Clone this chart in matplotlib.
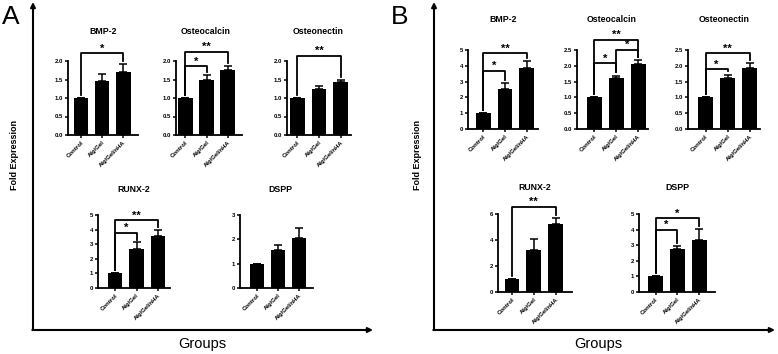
import matplotlib
matplotlib.use("Agg")
import matplotlib.pyplot as plt
import numpy as np

plt.rcParams['font.family'] = ['Liberation Sans', 'DejaVu Sans']

# ---------------- data ----------------
groups = ["Control", "Alg/Gel", "Alg/Gel/nHA"]

A_bmp2 = [1.0, 1.46, 1.71]
A_bmp2_err = [0.0, 0.20, 0.20]
A_bmp2_sig = [(0, 2, 2.21, "*")]

A_ocn = [1.0, 1.48, 1.76]
A_ocn_err = [0.0, 0.14, 0.10]
A_ocn_sig = [(0, 1, 1.86, "*"), (0, 2, 2.25, "**")]

A_onc = [1.0, 1.23, 1.44]
A_onc_err = [0.0, 0.09, 0.06]
A_onc_sig = [(0, 2, 2.14, "**")]

A_runx2 = [1.0, 2.70, 3.57]
A_runx2_err = [0.0, 0.42, 0.38]
A_runx2_sig = [(0, 1, 3.78, "*"), (0, 2, 4.65, "**")]

A_dspp = [1.0, 1.57, 2.05]
A_dspp_err = [0.0, 0.18, 0.43]
A_dspp_sig = []

B_bmp2 = [1.0, 2.56, 3.86]
B_bmp2_err = [0.0, 0.35, 0.45]
B_bmp2_sig = [(0, 1, 3.70, "*"), (0, 2, 4.80, "**")]

B_ocn = [1.0, 1.60, 2.05]
B_ocn_err = [0.0, 0.09, 0.14]
B_ocn_sig = [(0, 1, 2.08, "*"), (1, 2, 2.50, "*"), (0, 2, 2.82, "**")]

B_onc = [1.0, 1.62, 1.92]
B_onc_err = [0.0, 0.10, 0.16]
B_onc_sig = [(0, 1, 1.89, "*"), (0, 2, 2.39, "**")]

B_runx2 = [1.0, 3.25, 5.20]
B_runx2_err = [0.0, 0.82, 0.50]
B_runx2_sig = [(0, 2, 6.55, "**")]

B_dspp = [1.0, 2.75, 3.33]
B_dspp_err = [0.0, 0.22, 0.68]
B_dspp_sig = [(0, 1, 3.98, "*"), (0, 2, 4.72, "*")]

titles = ["BMP-2", "Osteocalcin", "Osteonectin", "RUNX-2", "DSPP"]

# ---------------- layout (pixels) ----------------
W, H = 778, 354
fig = plt.figure(figsize=(W / 100, H / 100), dpi=100)

def rect(l, t, r, b):
    return [l / W, 1 - b / H, (r - l) / W, (b - t) / H]

# overlay for arrows and labels
ov = fig.add_axes([0, 0, 1, 1], zorder=0)
ov.set_xlim(0, W)
ov.set_ylim(H, 0)
ov.axis('off')

def big_axes(x0, y0, xend, ytop):
    ap = dict(arrowstyle='-|>', lw=1.5, color='black', mutation_scale=7,
              shrinkA=0, shrinkB=0)
    ov.annotate('', xy=(x0, ytop), xytext=(x0, y0), arrowprops=ap)
    ov.annotate('', xy=(xend, y0), xytext=(x0 - 0.7, y0), arrowprops=ap)

big_axes(33, 330, 373, 2)
big_axes(434, 330, 775, 2)

ov.text(2, 17, "A", fontsize=19, va='center', ha='left')
ov.text(391, 17, "B", fontsize=19, va='center', ha='left')
ov.text(202, 344, "Groups", fontsize=10.5, ha='center', va='center')
ov.text(598, 344, "Groups", fontsize=10.5, ha='center', va='center')
ov.text(15, 155, "Fold Expression", fontsize=6.5, fontweight='bold',
        rotation=90, ha='center', va='center')
ov.text(418, 155, "Fold Expression", fontsize=6.5, fontweight='bold',
        rotation=90, ha='center', va='center')

# (values, errs, sigs, title, ytop, yticks, box px (l,t,r,b), xlim, title pos)
panels = [
    (A_bmp2, A_bmp2_err, A_bmp2_sig, titles[0], 2.0, [0, 0.5, 1.0, 1.5, 2.0],
     (68, 61, 138, 135), (-0.61, 2.69), (103, 31)),
    (A_ocn, A_ocn_err, A_ocn_sig, titles[1], 2.0, [0, 0.5, 1.0, 1.5, 2.0],
     (176, 61, 242, 135), (-0.45, 2.68), (206, 31)),
    (A_onc, A_onc_err, A_onc_sig, titles[2], 2.0, [0, 0.5, 1.0, 1.5, 2.0],
     (287, 61, 351, 135), (-0.47, 2.47), (318, 31)),
    (A_runx2, A_runx2_err, A_runx2_sig, titles[3], 5, [0, 1, 2, 3, 4, 5],
     (98, 215, 170, 288), (-0.81, 2.57), (134, 190)),
    (A_dspp, A_dspp_err, A_dspp_sig, titles[4], 3, [0, 1, 2, 3],
     (240, 215, 313, 288), (-0.79, 2.65), (280, 190)),
    (B_bmp2, B_bmp2_err, B_bmp2_sig, titles[0], 5, [0, 1, 2, 3, 4, 5],
     (468, 50, 538, 129), (-0.71, 2.52), (503, 19)),
    (B_ocn, B_ocn_err, B_ocn_sig, titles[1], 2.5, [0, 0.5, 1.0, 1.5, 2.0, 2.5],
     (577, 50, 648, 129), (-0.79, 2.44), (612, 19)),
    (B_onc, B_onc_err, B_onc_sig, titles[2], 2.5, [0, 0.5, 1.0, 1.5, 2.0, 2.5],
     (688, 50, 760, 129), (-0.80, 2.47), (724, 19)),
    (B_runx2, B_runx2_err, B_runx2_sig, titles[3], 6, [0, 2, 4, 6],
     (498, 214, 572, 292), (-0.64, 2.75), (535, 187)),
    (B_dspp, B_dspp_err, B_dspp_sig, titles[4], 5, [0, 1, 2, 3, 4, 5],
     (639, 214, 715, 292), (-0.76, 2.72), (677, 187)),
]

def fmt_tick(v, ytop):
    if ytop <= 2.5:
        return f"{v:.1f}"
    return f"{int(v)}"

for vals, errs, sigs, title, ytop, yt, box, xl, tpos in panels:
    ax = fig.add_axes(rect(*box), zorder=2)
    ax.patch.set_alpha(0)
    x = np.arange(len(groups))
    ax.bar(x, vals, width=0.68, color='black', zorder=2)
    ax.errorbar(x, vals, yerr=[np.zeros(len(errs)), errs], fmt='none',
                ecolor='black', elinewidth=1.1, capsize=3.0, capthick=1.1,
                zorder=1)
    ax.set_xlim(*xl)
    ax.set_ylim(0, ytop)
    ax.set_yticks(yt)
    ax.set_yticklabels([fmt_tick(v, ytop) for v in yt], fontsize=4.3,
                       fontweight='bold')
    ax.set_xticks(x)
    ax.set_xticklabels(groups, rotation=45, ha='right',
                       rotation_mode='anchor', fontsize=4.3, fontweight='bold')
    for s in ['top', 'right']:
        ax.spines[s].set_visible(False)
    for s in ['left', 'bottom']:
        ax.spines[s].set_linewidth(1.3)
    ax.tick_params(axis='both', length=2.2, width=1.1, pad=1.5)
    gap = 0.04 * ytop
    tops = [v + e for v, e in zip(vals, errs)]
    for i, j, yb, lab in sigs:
        yi = tops[i] + gap
        yj = tops[j] + gap
        ax.plot([i, i, j, j], [yi, yb, yb, yj], color='black', lw=1.3,
                clip_on=False, zorder=3)
        ax.annotate(lab, ((i + j) / 2, yb), xytext=(0, 1.2),
                    textcoords='offset points', ha='center', va='baseline',
                    fontsize=8, fontweight='bold', annotation_clip=False)
    ov.text(tpos[0], tpos[1], title, fontsize=6.3, fontweight='bold',
            ha='center', va='center')

fig.savefig("out.png", dpi=100)
